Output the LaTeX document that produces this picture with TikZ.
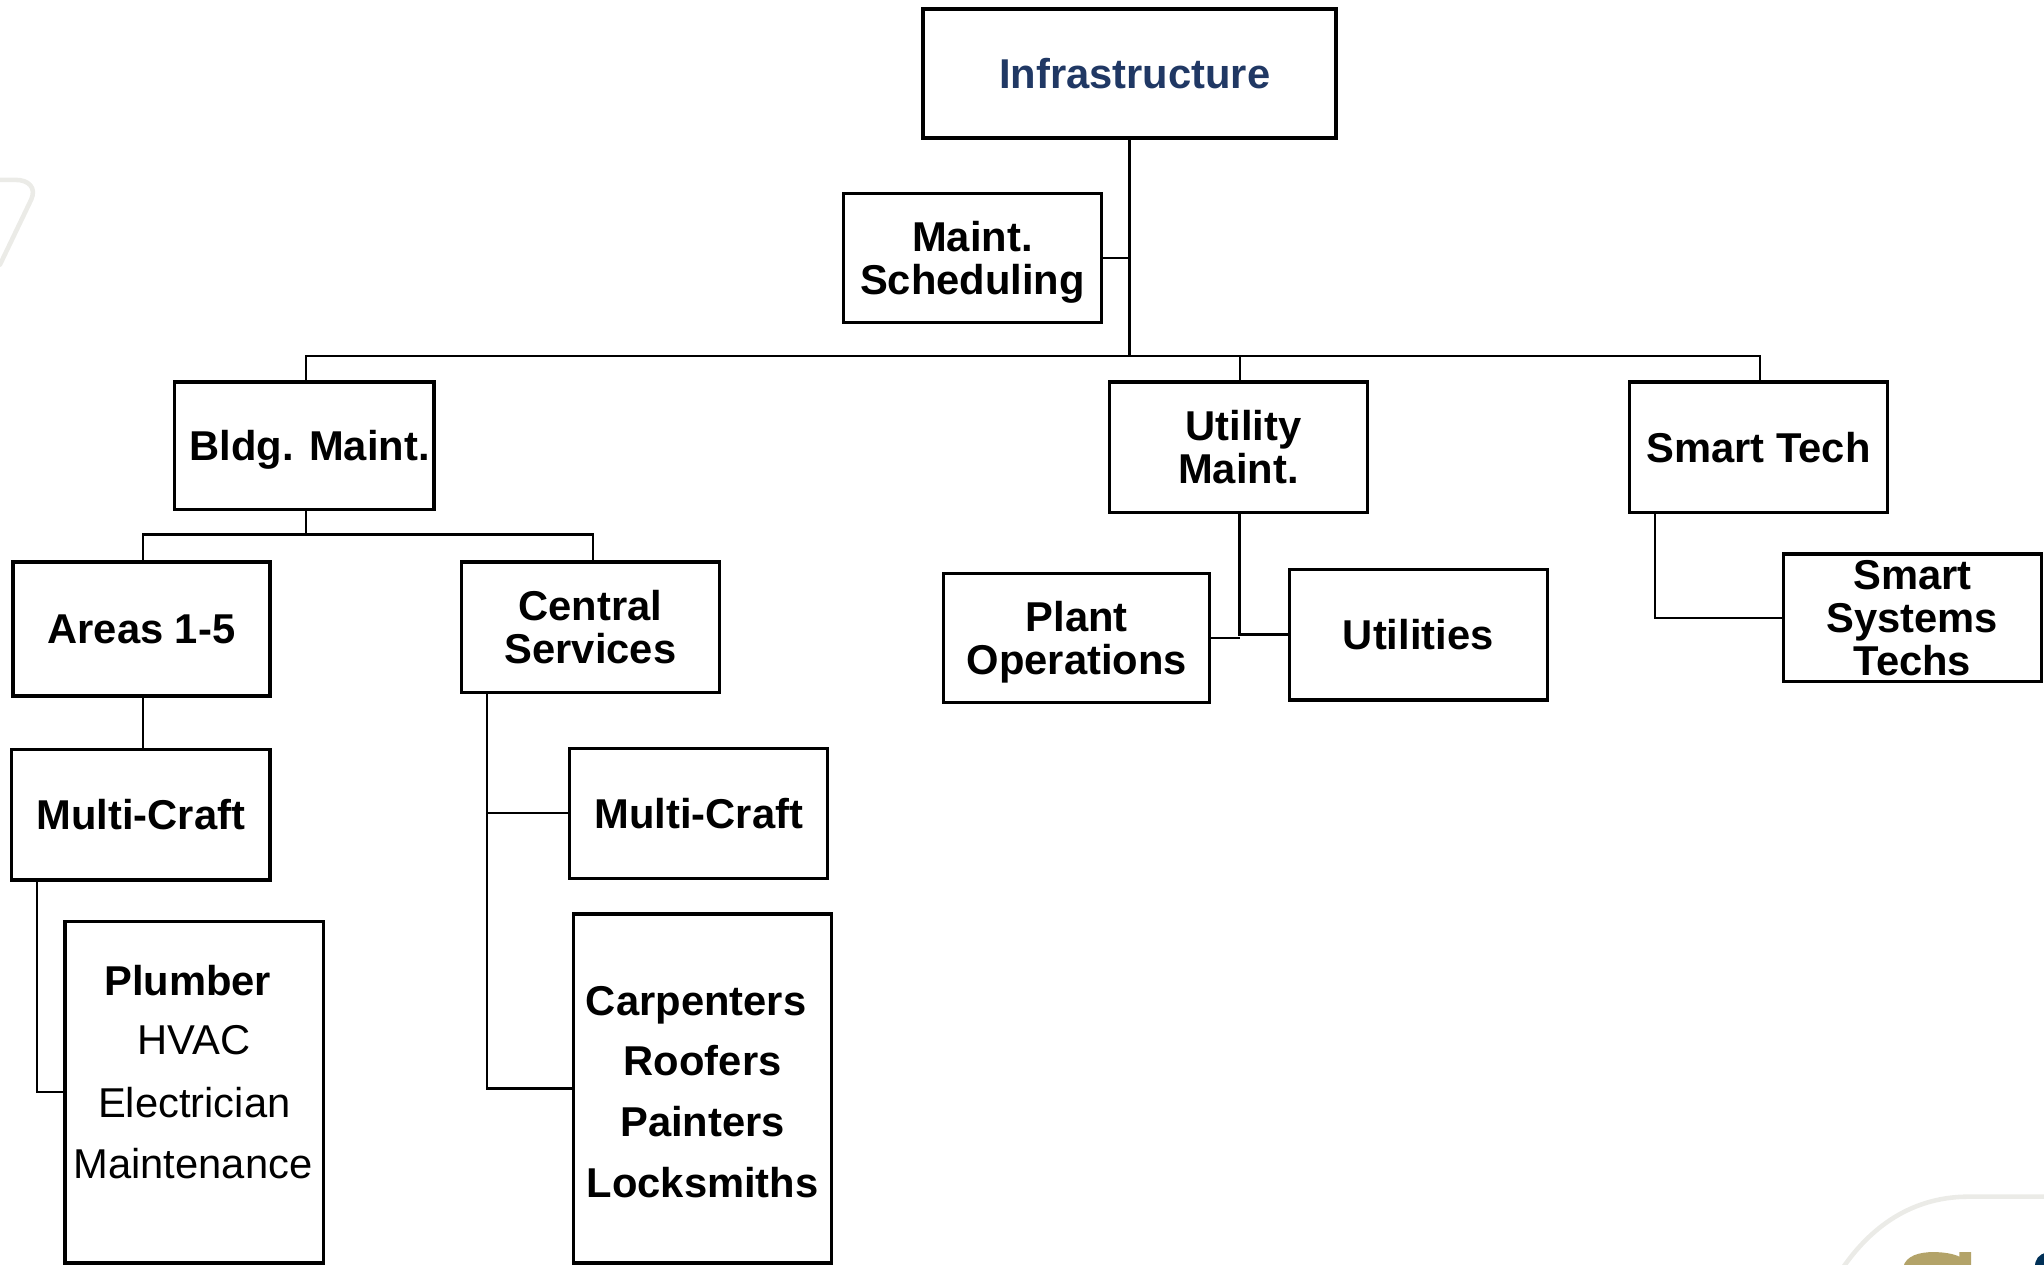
\documentclass[tikz,border=0pt]{standalone}
\usepackage{fontspec}
\setmainfont{Liberation Sans}
\definecolor{infranavy}{HTML}{203864}
\definecolor{gtgold}{HTML}{B3A369}
\definecolor{gtnavy}{HTML}{003057}
\definecolor{ghost}{HTML}{EBEBE7}
\begin{document}
\begin{tikzpicture}[x=1pt,y=-1pt,
  box/.style={draw,line width=2.6pt,minimum width=198pt,minimum height=100pt,inner sep=0pt,align=center,font=\fontsize{32}{33}\selectfont\bfseries},
  conn/.style={line width=1.6pt},
  trunk/.style={line width=2.2pt},
  item/.style={anchor=base,inner sep=0pt,font=\fontsize{32}{33}\selectfont},
  itemb/.style={anchor=base,inner sep=0pt,font=\fontsize{32}{33}\selectfont\bfseries},
  ghostline/.style={draw=ghost,line width=3.5pt,line cap=round,line join=round}]
\useasboundingbox (0,0) rectangle (1568,970.4);
% faint background decorations
\draw[ghostline] (-5,138) -- (12,138) .. controls (22,138) and (28,144) .. (24,153) -- (0,203);
\draw[ghostline] (1412,975) .. controls (1438,936) and (1472,918) .. (1510,918) -- (1575,918);
\fill[gtgold] (1460,972) .. controls (1462,963) and (1473,960.5) .. (1483,960.5) .. controls (1492,960.5) and (1499,962) .. (1503,964) -- (1503,960.5) -- (1512,960.5) -- (1512,972) -- cycle;
\fill[gtnavy] (1561,972) .. controls (1561,966) and (1564,962) .. (1570,961) -- (1570,972) -- cycle;
% boxes
\node[box,minimum width=317pt,minimum height=99pt,text=infranavy] (infra) at (866.5,56.5) {\hspace*{8pt}Infrastructure};
\node[box,minimum height=99pt,text depth=0pt] (sched) at (746,198) {Maint.\\Scheduling};
\node[box,minimum width=199pt,minimum height=98pt,text depth=0pt] (bldg) at (233.5,342) {\hspace*{8pt}Bldg. Maint.};
\node[box] (util) at (950,343) {\hspace*{8pt}Utility\\Maint.};
\node[box] (smart) at (1349,343) {Smart Tech};
\node[box,minimum width=197pt,minimum height=103pt] (areas) at (108.5,482.5) {Areas 1-5};
\node[box] (central) at (453,481) {Central\\Services};
\node[box] (mcl) at (108,625) {Multi-Craft};
\node[box,minimum height=262pt] (plumb) at (149,838) {};
\node[box] (mcr) at (536,624) {Multi-Craft};
\node[box,minimum height=268pt] (carp) at (539,835) {};
\node[box,minimum width=204pt,minimum height=99pt,text depth=0pt] (plant) at (826,489.5) {Plant\\Operations};
\node[box,text depth=0pt] (utils) at (1088,487) {Utilities};
\node[box,minimum height=98pt] (sst) at (1467,474) {Smart\\Systems\\Techs};
% list texts
\node[itemb] (pl1) at (144,764) {Plumber};
\node[item] (pl2) at (149,809) {HVAC};
\node[item] (pl3) at (149,857) {Electrician};
\node[item] (pl4) at (148,904) {Maintenance};
\node[itemb] (cp1) at (534,779) {Carpenters};
\node[itemb] (cp2) at (539,825) {Roofers};
\node[itemb] (cp3) at (539,872) {Painters};
\node[itemb] (cp4) at (539,919) {Locksmiths};
% connectors
\coordinate (jT) at (866.5,273);
\draw[trunk] (infra.south) -- (jT);
\draw[conn] (sched.east) -- (sched.east -| jT);
\draw[conn] ([xshift=1.5pt]bldg.north) |- (jT) -| ([xshift=1pt]smart.north);
\coordinate (uN) at ([xshift=1pt]util.north);
\draw[conn] (uN) -- (uN |- jT);
\coordinate (jB) at (235,410);
\draw[conn] ([xshift=1.5pt]bldg.south) -- (jB);
\draw[conn] ([xshift=1.5pt]areas.north) |- (jB) -| ([xshift=2pt]central.north);
\coordinate (aS) at ([xshift=1.5pt]areas.south);
\draw[conn] (aS) -- (aS |- mcl.north);
\draw[conn] ([xshift=21pt]mcl.south west) |- (plumb.west);
\coordinate (cS) at ([xshift=21pt]central.south west);
\draw[conn] (cS) |- (carp.west);
\draw[conn] (mcr.west) -| (cS);
\coordinate (uS) at ([xshift=1pt]util.south);
\draw[trunk] (uS) |- (utils.west);
\draw[conn] (plant.east) -- (plant.east -| uS);
\draw[conn] ([xshift=21pt]smart.south west) |- (sst.west);
\end{tikzpicture}
\end{document}
